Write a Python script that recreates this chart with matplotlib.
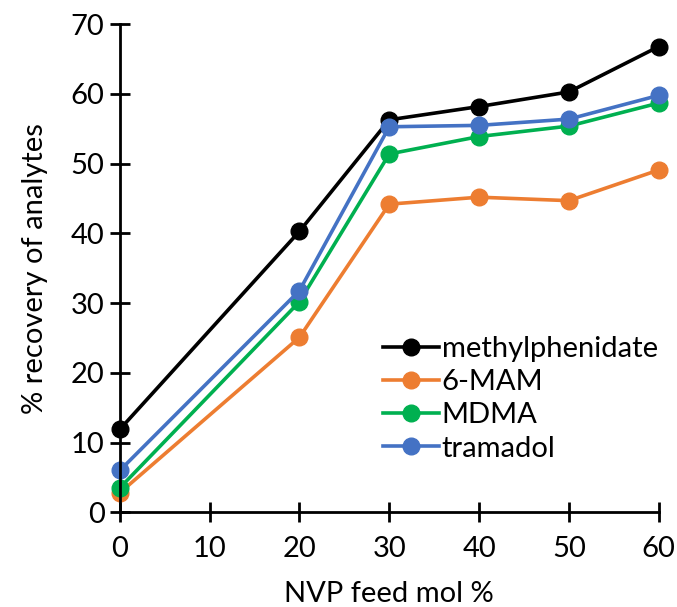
import matplotlib.pyplot as plt

plt.rcParams['font.family'] = ['Lato', 'DejaVu Sans']

# data
nvp = [0, 20, 30, 40, 50, 60]
methylphenidate = [11.9, 40.3, 56.3, 58.2, 60.3, 66.8]
mam6 = [2.8, 25.1, 44.2, 45.2, 44.7, 49.1]
mdma = [3.5, 30.2, 51.4, 53.9, 55.4, 58.7]
tramadol = [6.0, 31.8, 55.3, 55.5, 56.4, 59.8]

series = [
    ("methylphenidate", methylphenidate, "#000000"),
    ("6-MAM", mam6, "#ED7D31"),
    ("MDMA", mdma, "#00B050"),
    ("tramadol", tramadol, "#4472C4"),
]

fig = plt.figure(figsize=(6.77, 6.07), dpi=100)
ax = fig.add_axes([0.177, 0.156, 0.796, 0.804])

for name, vals, col in series:
    ax.plot(nvp, vals, color=col, lw=2.6, marker='o', ms=12, label=name,
             clip_on=False)

ax.set_xlim(0, 60)
ax.set_ylim(0, 70)
ax.set_xticks(range(0, 61, 10))
ax.set_yticks(range(0, 71, 10))

for s in ['top', 'right']:
    ax.spines[s].set_visible(False)
for s in ['left', 'bottom']:
    ax.spines[s].set_linewidth(2)

ax.tick_params(direction='inout', length=14, width=2, labelsize=21, pad=4)
ax.tick_params(axis='x', pad=10)

ax.set_xlabel("NVP feed mol %", fontsize=21, labelpad=14)
ax.set_ylabel("% recovery of analytes", fontsize=21, labelpad=16)

ax.legend(loc='lower right', bbox_to_anchor=(1.02, 0.08), frameon=False,
          fontsize=21, handlelength=1.9, handletextpad=0.1,
          labelspacing=0.25, borderaxespad=0)

fig.savefig("out.png", dpi=100)
